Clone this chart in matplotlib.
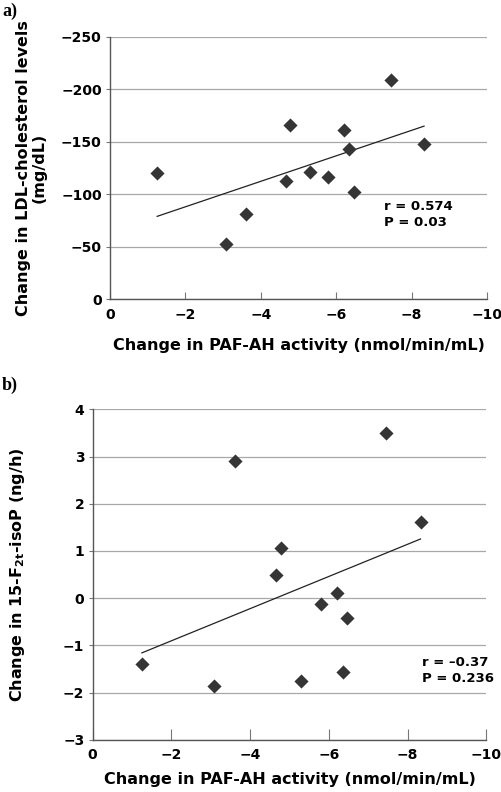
import matplotlib
matplotlib.use('Agg')
import matplotlib.pyplot as plt
import numpy as np

plt.rcParams['font.family'] = ['DejaVu Sans']
plt.rcParams['font.weight'] = 'bold'
plt.rcParams['mathtext.fontset'] = 'dejavusans'
plt.rcParams['mathtext.default'] = 'bf'
plt.rcParams['axes.unicode_minus'] = True

# change in PAF-AH activity (nmol/min/mL), same subjects in both panels
paf_ah = [-1.25, -3.08, -3.61, -4.67, -4.78, -5.30, -5.79, -6.20, -6.35, -6.47, -7.44, -8.33]
# a) change in LDL-cholesterol (mg/dL)
ldl = [-120, -53, -81, -113, -166, -121, -116, -161, -143, -102, -209, -148]
# b) change in 15-F2t-isoP (ng/h)
isop = [-1.40, -1.86, 2.90, 0.48, 1.07, -1.76, -0.12, 0.11, -1.57, -0.42, 3.49, 1.61]

x_ticks = [0, -2, -4, -6, -8, -10]
ldl_ticks = [0, -50, -100, -150, -200, -250]
isop_ticks = [-3, -2, -1, 0, 1, 2, 3, 4]

DARK = '#353535'
GRID = '#a8a8a8'
xlabel = 'Change in PAF-AH activity (nmol/min/mL)'


def fmt(v):
    return '0' if v == 0 else ('\u2212' + str(abs(v)) if v < 0 else str(v))


def style_axes(ax, xtick_len):
    for s in ['top', 'right']:
        ax.spines[s].set_visible(False)
    for s in ['left', 'bottom']:
        ax.spines[s].set_color('#555555')
        ax.spines[s].set_linewidth(1.0)
    ax.set_xlim(0, -10)
    ax.set_xticks(x_ticks)
    ax.set_xticklabels([fmt(v) for v in x_ticks], fontsize=10, fontweight='bold')
    ax.tick_params(axis='x', direction='in', length=xtick_len, width=0.8, color='#777777', pad=6)
    ax.tick_params(axis='y', direction='out', length=3, width=0.8, color='#777777', pad=3)
    ax.grid(axis='y', color=GRID, linewidth=0.9)
    ax.set_axisbelow(True)


def fit_line(ax, x, y):
    x = np.array(x)
    k, b = np.polyfit(x, y, 1)
    xs = np.array([x.max(), x.min()])
    ax.plot(xs, k * xs + b, color='#222222', linewidth=0.9, zorder=3)


fig = plt.figure(figsize=(5.01, 7.92), dpi=100)

# ---- panel a
ax1 = fig.add_axes([0.2196, 0.6221, 0.7525, 0.3316])
style_axes(ax1, 5)
ax1.set_ylim(0, -250)
ax1.set_yticks(ldl_ticks)
ax1.set_yticklabels([fmt(v) for v in ldl_ticks], fontsize=10, fontweight='bold')
ax1.scatter(paf_ah, ldl, marker='D', s=52, color=DARK, zorder=4, linewidths=0)
fit_line(ax1, paf_ah, ldl)
ax1.text(-7.27, -81, 'r = 0.574\nP = 0.03', fontsize=9.5, fontweight='bold',
         ha='left', va='center', linespacing=1.3)
ax1.set_xlabel(xlabel, fontsize=11.5, fontweight='bold', labelpad=12)
ax1.set_ylabel('Change in LDL-cholesterol levels\n(mg/dL)', fontsize=11.5,
               fontweight='bold', labelpad=10, linespacing=1.1)
fig.text(0.004, 0.986, 'a)', fontsize=13, fontweight='bold', va='center',
         family='Liberation Serif')

# ---- panel b
ax2 = fig.add_axes([0.185, 0.0660, 0.7856, 0.4172])
style_axes(ax2, 8)
ax2.set_ylim(-3, 4)
ax2.set_yticks(isop_ticks)
ax2.set_yticklabels([fmt(v) for v in isop_ticks], fontsize=10, fontweight='bold')
ax2.scatter(paf_ah, isop, marker='D', s=52, color=DARK, zorder=4, linewidths=0)
fit_line(ax2, paf_ah, isop)
ax2.text(-8.36, -1.54, 'r = \u20130.37\nP = 0.236', fontsize=9.5, fontweight='bold',
         ha='left', va='center', linespacing=1.3)
ax2.set_xlabel(xlabel, fontsize=11.5, fontweight='bold', labelpad=7)
ax2.set_ylabel(r'Change in 15-F$_{2t}$-isoP (ng/h)', fontsize=11.5,
               fontweight='bold', labelpad=26)
fig.text(0.004, 0.513, 'b)', fontsize=13, fontweight='bold', va='center',
         family='Liberation Serif')

fig.savefig('out.png', dpi=100)
